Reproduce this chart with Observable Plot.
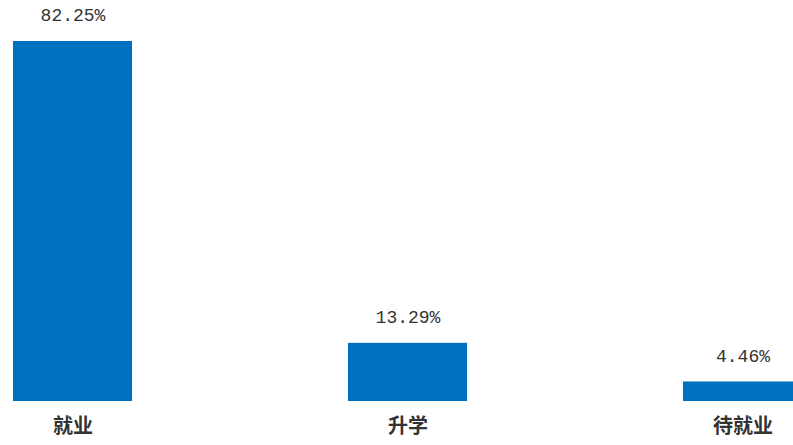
<!DOCTYPE html>
<html>
<head>
<meta charset="utf-8">
<script src="https://cdn.jsdelivr.net/npm/d3@7"></script>
<script src="https://cdn.jsdelivr.net/npm/@observablehq/plot@0.6"></script>
<style>
  html, body { margin: 0; padding: 0; background: #fff; overflow: hidden; }
</style>
</head>
<body>
<div id="chart"></div>
<script>
const categories = ["就业", "升学", "待就业"];
const values = [82.25, 13.29, 4.46];
const valueLabels = ["82.25%", "13.29%", "4.46%"];

const data = categories.map((c, i) => ({category: c, value: values[i], label: valueLabels[i]}));

const chart = Plot.plot({
  width: 793,
  height: 445,
  marginLeft: 0,
  marginRight: 0,
  marginTop: 0,
  marginBottom: 44,
  style: {background: "#fff", overflow: "hidden"},
  x: {domain: categories, range: [12, 803], paddingInner: 0.6458, paddingOuter: 0, label: null},
  y: {domain: [0, d3.max(values)], range: [401, 41], axis: null},
  marks: [
    Plot.barY(data, {x: "category", y: "value", fill: "#0070C0"}),
    Plot.text(data, {
      x: "category", y: "value", text: "label", dy: -26,
      fontFamily: "Liberation Mono", fontSize: 18, fill: "#333"
    }),
    Plot.axisX({
      tickSize: 0, tickPadding: 17, label: null,
      fontFamily: "Noto Sans CJK SC", fontSize: 20, fontWeight: "bold", fill: "#333"
    })
  ]
});
document.getElementById("chart").appendChild(chart);
</script>
</body>
</html>
